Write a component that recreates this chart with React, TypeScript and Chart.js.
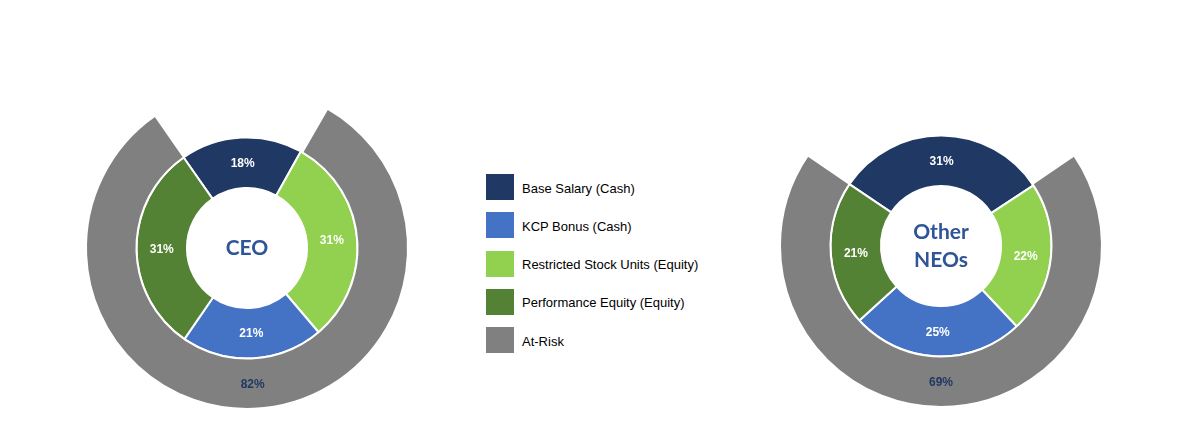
import React, { useEffect, useRef } from "react";
import { Chart, registerables } from "chart.js";

Chart.register(...registerables);

// ---- data ----
const ringCategories = [
  "Base Salary (Cash)",
  "Restricted Stock Units (Equity)",
  "KCP Bonus (Cash)",
  "Performance Equity (Equity)",
];
const ringColors = ["#203864", "#92D050", "#4472C4", "#548235"];

const legendLabels = [
  "Base Salary (Cash)",
  "KCP Bonus (Cash)",
  "Restricted Stock Units (Equity)",
  "Performance Equity (Equity)",
  "At-Risk",
];
const legendColors = ["#203864", "#4472C4", "#92D050", "#548235", "#808080"];

const ceoValues = [18, 31, 21, 31];
const ceoAtRisk = 82;
const neoValues = [31, 22, 25, 21];
const neoAtRisk = 69;

const ceoTitle = ["CEO"];
const neoTitle = ["Other", "NEOs"];

const GRAY = "#808080";

const labelPlugin = {
  id: "ringLabels",
  afterDatasetsDraw(chart: any) {
    const ctx = chart.ctx;
    ctx.save();
    ctx.textAlign = "center";
    ctx.textBaseline = "middle";
    chart.data.datasets.forEach((ds: any, di: number) => {
      const meta = chart.getDatasetMeta(di);
      meta.data.forEach((el: any, i: number) => {
        const txt = ds.valueLabels ? ds.valueLabels[i] : null;
        if (!txt) return;
        const p = el.tooltipPosition();
        ctx.font = "bold 12px 'Liberation Sans', Arial, sans-serif";
        ctx.fillStyle = ds.labelColor || "#ffffff";
        ctx.fillText(txt, p.x, p.y + 1);
      });
    });
    const title: string[] = chart.options.plugins.centerTitle?.lines || [];
    const meta0 = chart.getDatasetMeta(0);
    if (meta0.data.length && title.length) {
      const cx = meta0.data[0].x;
      const cy = meta0.data[0].y;
      ctx.font = "bold 21px Lato, 'Open Sans', sans-serif";
      ctx.fillStyle = "#2F5597";
      const lh = 28;
      const start = cy - ((title.length - 1) * lh) / 2;
      title.forEach((t, k) => ctx.fillText(t, cx, start + k * lh));
    }
    ctx.restore();
  },
};

function Donut(props: {
  values: number[];
  atRisk: number;
  title: string[];
  innerRotation: number;
  outerRotation: number;
  left: number;
  top: number;
}) {
  const ref = useRef<HTMLCanvasElement | null>(null);
  useEffect(() => {
    if (!ref.current) return;
    const chart = new Chart(ref.current, {
      type: "doughnut",
      data: {
        labels: ringCategories,
        datasets: [
          {
            data: [props.atRisk, 100 - props.atRisk],
            backgroundColor: [GRAY, "rgba(0,0,0,0)"],
            borderColor: ["#ffffff", "rgba(0,0,0,0)"],
            borderWidth: [2, 0],
            rotation: props.outerRotation,
            valueLabels: [props.atRisk + "%", null],
            labelColor: "#203864",
          } as any,
          {
            data: props.values,
            backgroundColor: ringColors,
            borderColor: "#ffffff",
            borderWidth: 2,
            rotation: props.innerRotation,
            valueLabels: props.values.map((v) => v + "%"),
            labelColor: "#ffffff",
          } as any,
        ],
      },
      options: {
        animation: false,
        responsive: false,
        events: [],
        radius: 161,
        cutout: "37.3%",
        layout: { padding: 0 },
        plugins: {
          legend: { display: false },
          tooltip: { enabled: false },
          centerTitle: { lines: props.title },
        } as any,
      } as any,
      plugins: [labelPlugin],
    });
    return () => chart.destroy();
  }, []);
  return (
    <canvas
      ref={ref}
      width={340}
      height={340}
      style={{ position: "absolute", left: props.left, top: props.top, width: 340, height: 340 }}
    />
  );
}

export default function App() {
  return (
    <div
      style={{
        position: "absolute",
        left: 0,
        top: 0,
        width: 1183,
        height: 430,
        background: "#ffffff",
        overflow: "hidden",
      }}
    >
      <Donut values={ceoValues} atRisk={ceoAtRisk} title={ceoTitle} innerRotation={-35} outerRotation={30} left={77} top={78} />
      <Donut values={neoValues} atRisk={neoAtRisk} title={neoTitle} innerRotation={-56} outerRotation={55.8} left={771} top={76} />
      {legendLabels.map((lab, i) => (
        <div
          key={lab}
          style={{
            position: "absolute",
            left: 486,
            top: 174 + i * 38.3,
            height: 26,
            display: "flex",
            alignItems: "center",
            font: "13px 'Liberation Sans', Arial, sans-serif",
            color: "#000000",
            whiteSpace: "nowrap",
          }}
        >
          <div style={{ width: 28, height: 26, background: legendColors[i], marginRight: 8, flex: "none" }} />
          <span style={{ position: "relative", top: 1 }}>{lab}</span>
        </div>
      ))}
    </div>
  );
}
